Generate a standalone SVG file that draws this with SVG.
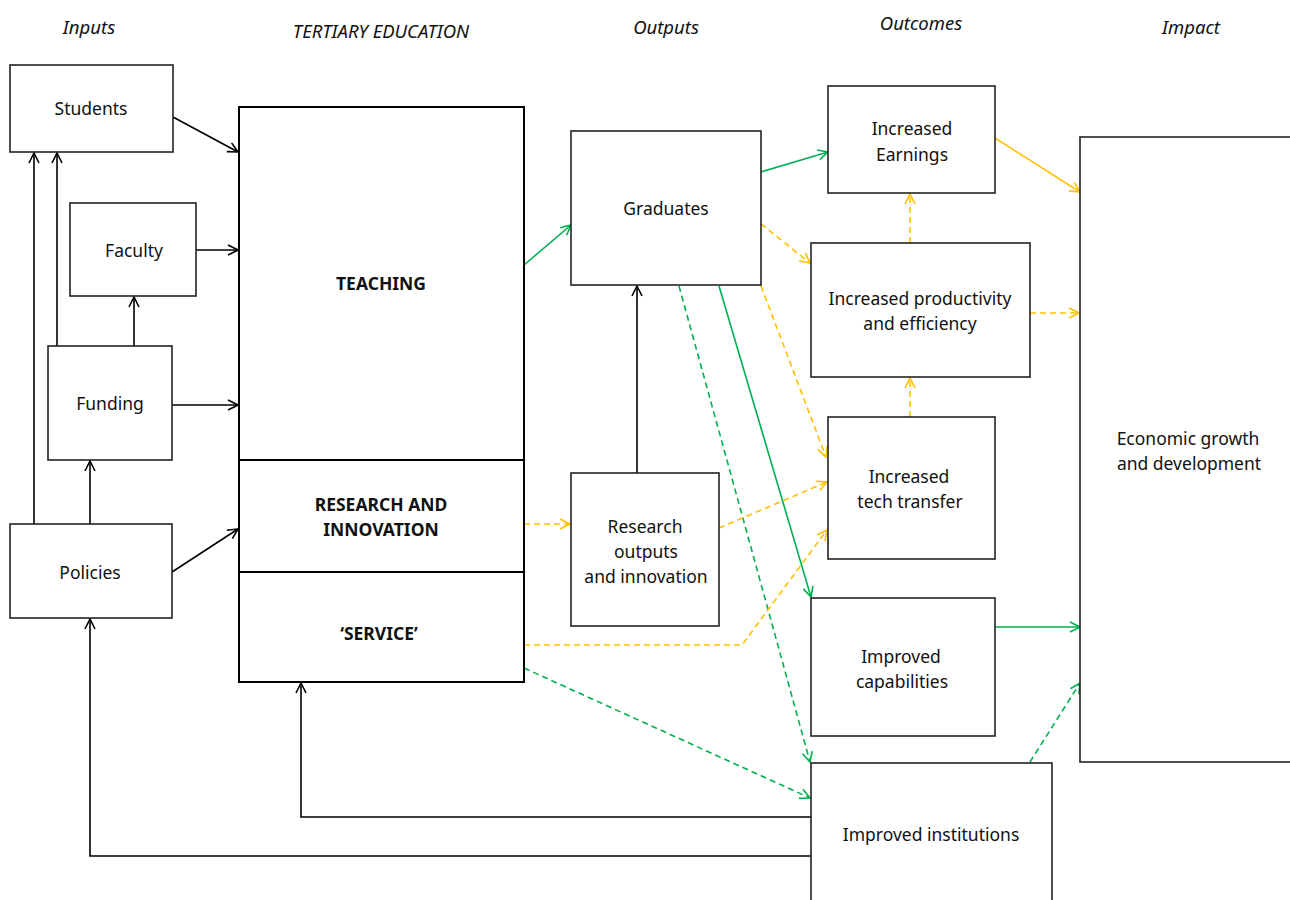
<svg xmlns="http://www.w3.org/2000/svg" width="1290" height="900" viewBox="0 0 1290 900">
<style>
.box{fill:#fff;stroke:#222;stroke-width:1.6}
.big{fill:none;stroke:#000;stroke-width:2}
text{font-family:"Noto Sans","Liberation Sans",sans-serif;font-size:17.5px;fill:#111;text-anchor:middle}
.hd{font-style:italic;font-size:18.5px}
.b{font-weight:bold}
.k{fill:none;stroke:#000;stroke-width:1.6}
.g{fill:none;stroke:#00b050;stroke-width:1.6}
.o{fill:none;stroke:#ffc000;stroke-width:1.6}
.d{stroke-dasharray:6 4}
</style>
<defs>
<marker id="ak" viewBox="0 0 12 12" refX="11" refY="6" markerWidth="12" markerHeight="12" markerUnits="userSpaceOnUse" orient="auto"><path d="M1,1 L11,6 L1,11" fill="none" stroke="#000" stroke-width="1.6"/></marker>
<marker id="ag" viewBox="0 0 12 12" refX="11" refY="6" markerWidth="12" markerHeight="12" markerUnits="userSpaceOnUse" orient="auto"><path d="M1,1 L11,6 L1,11" fill="none" stroke="#00b050" stroke-width="1.6"/></marker>
<marker id="ao" viewBox="0 0 12 12" refX="11" refY="6" markerWidth="12" markerHeight="12" markerUnits="userSpaceOnUse" orient="auto"><path d="M1,1 L11,6 L1,11" fill="none" stroke="#ffc000" stroke-width="1.6"/></marker>
</defs>
<rect width="1290" height="900" fill="#fff"/>
<g id="headers">
<text class="hd" x="89" y="34">Inputs</text>
<text class="hd" x="381" y="38">TERTIARY EDUCATION</text>
<text class="hd" x="666" y="34">Outputs</text>
<text class="hd" x="921" y="30">Outcomes</text>
<text class="hd" x="1191" y="34">Impact</text>
</g>
<g id="connectors">
<line class="k" x1="173" y1="117" x2="238" y2="152" marker-end="url(#ak)"/>
<line class="k" x1="196" y1="250" x2="238" y2="250" marker-end="url(#ak)"/>
<line class="k" x1="172" y1="405" x2="238" y2="405" marker-end="url(#ak)"/>
<line class="k" x1="172" y1="572" x2="238" y2="529" marker-end="url(#ak)"/>
<line class="k" x1="90" y1="527" x2="90" y2="461" marker-end="url(#ak)"/>
<line class="k" x1="134" y1="346" x2="134" y2="297" marker-end="url(#ak)"/>
<line class="k" x1="57" y1="346" x2="57" y2="153" marker-end="url(#ak)"/>
<line class="k" x1="34" y1="524" x2="34" y2="153" marker-end="url(#ak)"/>
<line class="k" x1="637" y1="473" x2="637" y2="286" marker-end="url(#ak)"/>
<polyline class="k" points="811,817 301,817 301,683" marker-end="url(#ak)"/>
<polyline class="k" points="811,856 90,856 90,619" marker-end="url(#ak)"/>
<line class="g" x1="524" y1="265" x2="571" y2="225" marker-end="url(#ag)"/>
<line class="g" x1="761" y1="172" x2="828" y2="152" marker-end="url(#ag)"/>
<line class="g" x1="719" y1="286" x2="811" y2="597" marker-end="url(#ag)"/>
<line class="g" x1="995" y1="627" x2="1080" y2="627" marker-end="url(#ag)"/>
<line class="g d" x1="679" y1="286" x2="810" y2="762" marker-end="url(#ag)"/>
<line class="g d" x1="524" y1="668" x2="810" y2="798" marker-end="url(#ag)"/>
<line class="g d" x1="1030" y1="762" x2="1080" y2="683" marker-end="url(#ag)"/>
<line class="o" x1="995" y1="138" x2="1080" y2="192" marker-end="url(#ao)"/>
<line class="o d" x1="761" y1="224" x2="810" y2="263" marker-end="url(#ao)"/>
<line class="o d" x1="761" y1="286" x2="826" y2="457" marker-end="url(#ao)"/>
<line class="o d" x1="524" y1="524" x2="570" y2="524" marker-end="url(#ao)"/>
<line class="o d" x1="719" y1="528" x2="827" y2="482" marker-end="url(#ao)"/>
<polyline class="o d" points="524,645 742,645 827,530" marker-end="url(#ao)"/>
<line class="o d" x1="910" y1="243" x2="910" y2="194" marker-end="url(#ao)"/>
<line class="o d" x1="910" y1="417" x2="910" y2="378" marker-end="url(#ao)"/>
<line class="o d" x1="1030" y1="313" x2="1079" y2="313" marker-end="url(#ao)"/>
</g>
<g id="students"><rect class="box" x="10" y="65" width="163" height="87"/><text x="91" y="115">Students</text></g>
<g id="faculty"><rect class="box" x="70" y="203" width="126" height="93"/><text x="134" y="257">Faculty</text></g>
<g id="funding"><rect class="box" x="48" y="346" width="124" height="114"/><text x="110" y="410">Funding</text></g>
<g id="policies"><rect class="box" x="10" y="524" width="162" height="94"/><text x="90" y="579">Policies</text></g>
<g id="tertiary">
<rect class="big" x="239" y="107" width="285" height="575"/>
<line class="big" x1="239" y1="460" x2="524" y2="460"/>
<line class="big" x1="239" y1="572" x2="524" y2="572"/>
<text class="b" x="381" y="290">TEACHING</text>
<text class="b" x="381" y="511">RESEARCH AND</text>
<text class="b" x="381" y="536">INNOVATION</text>
<text class="b" x="379" y="640">‘SERVICE’</text>
</g>
<g id="graduates"><rect class="box" x="571" y="131" width="190" height="154"/><text x="666" y="215">Graduates</text></g>
<g id="research-outputs"><rect class="box" x="571" y="473" width="148" height="153"/><text x="645" y="533">Research</text><text x="646" y="558">outputs</text><text x="646" y="583">and innovation</text></g>
<g id="earnings"><rect class="box" x="828" y="86" width="167" height="107"/><text x="912" y="135">Increased</text><text x="912" y="161">Earnings</text></g>
<g id="productivity"><rect class="box" x="811" y="243" width="219" height="134"/><text x="920" y="305">Increased productivity</text><text x="920" y="330">and efficiency</text></g>
<g id="tech-transfer"><rect class="box" x="828" y="417" width="167" height="142"/><text x="909" y="483">Increased</text><text x="910" y="508">tech transfer</text></g>
<g id="capabilities"><rect class="box" x="811" y="598" width="184" height="138"/><text x="901" y="663">Improved</text><text x="902" y="688">capabilities</text></g>
<g id="institutions"><rect class="box" x="811" y="763" width="241" height="150"/><text x="931" y="841">Improved institutions</text></g>
<g id="economic"><rect class="box" x="1080" y="137" width="230" height="625"/><text x="1188" y="445">Economic growth</text><text x="1189" y="470">and development</text></g>
</svg>
